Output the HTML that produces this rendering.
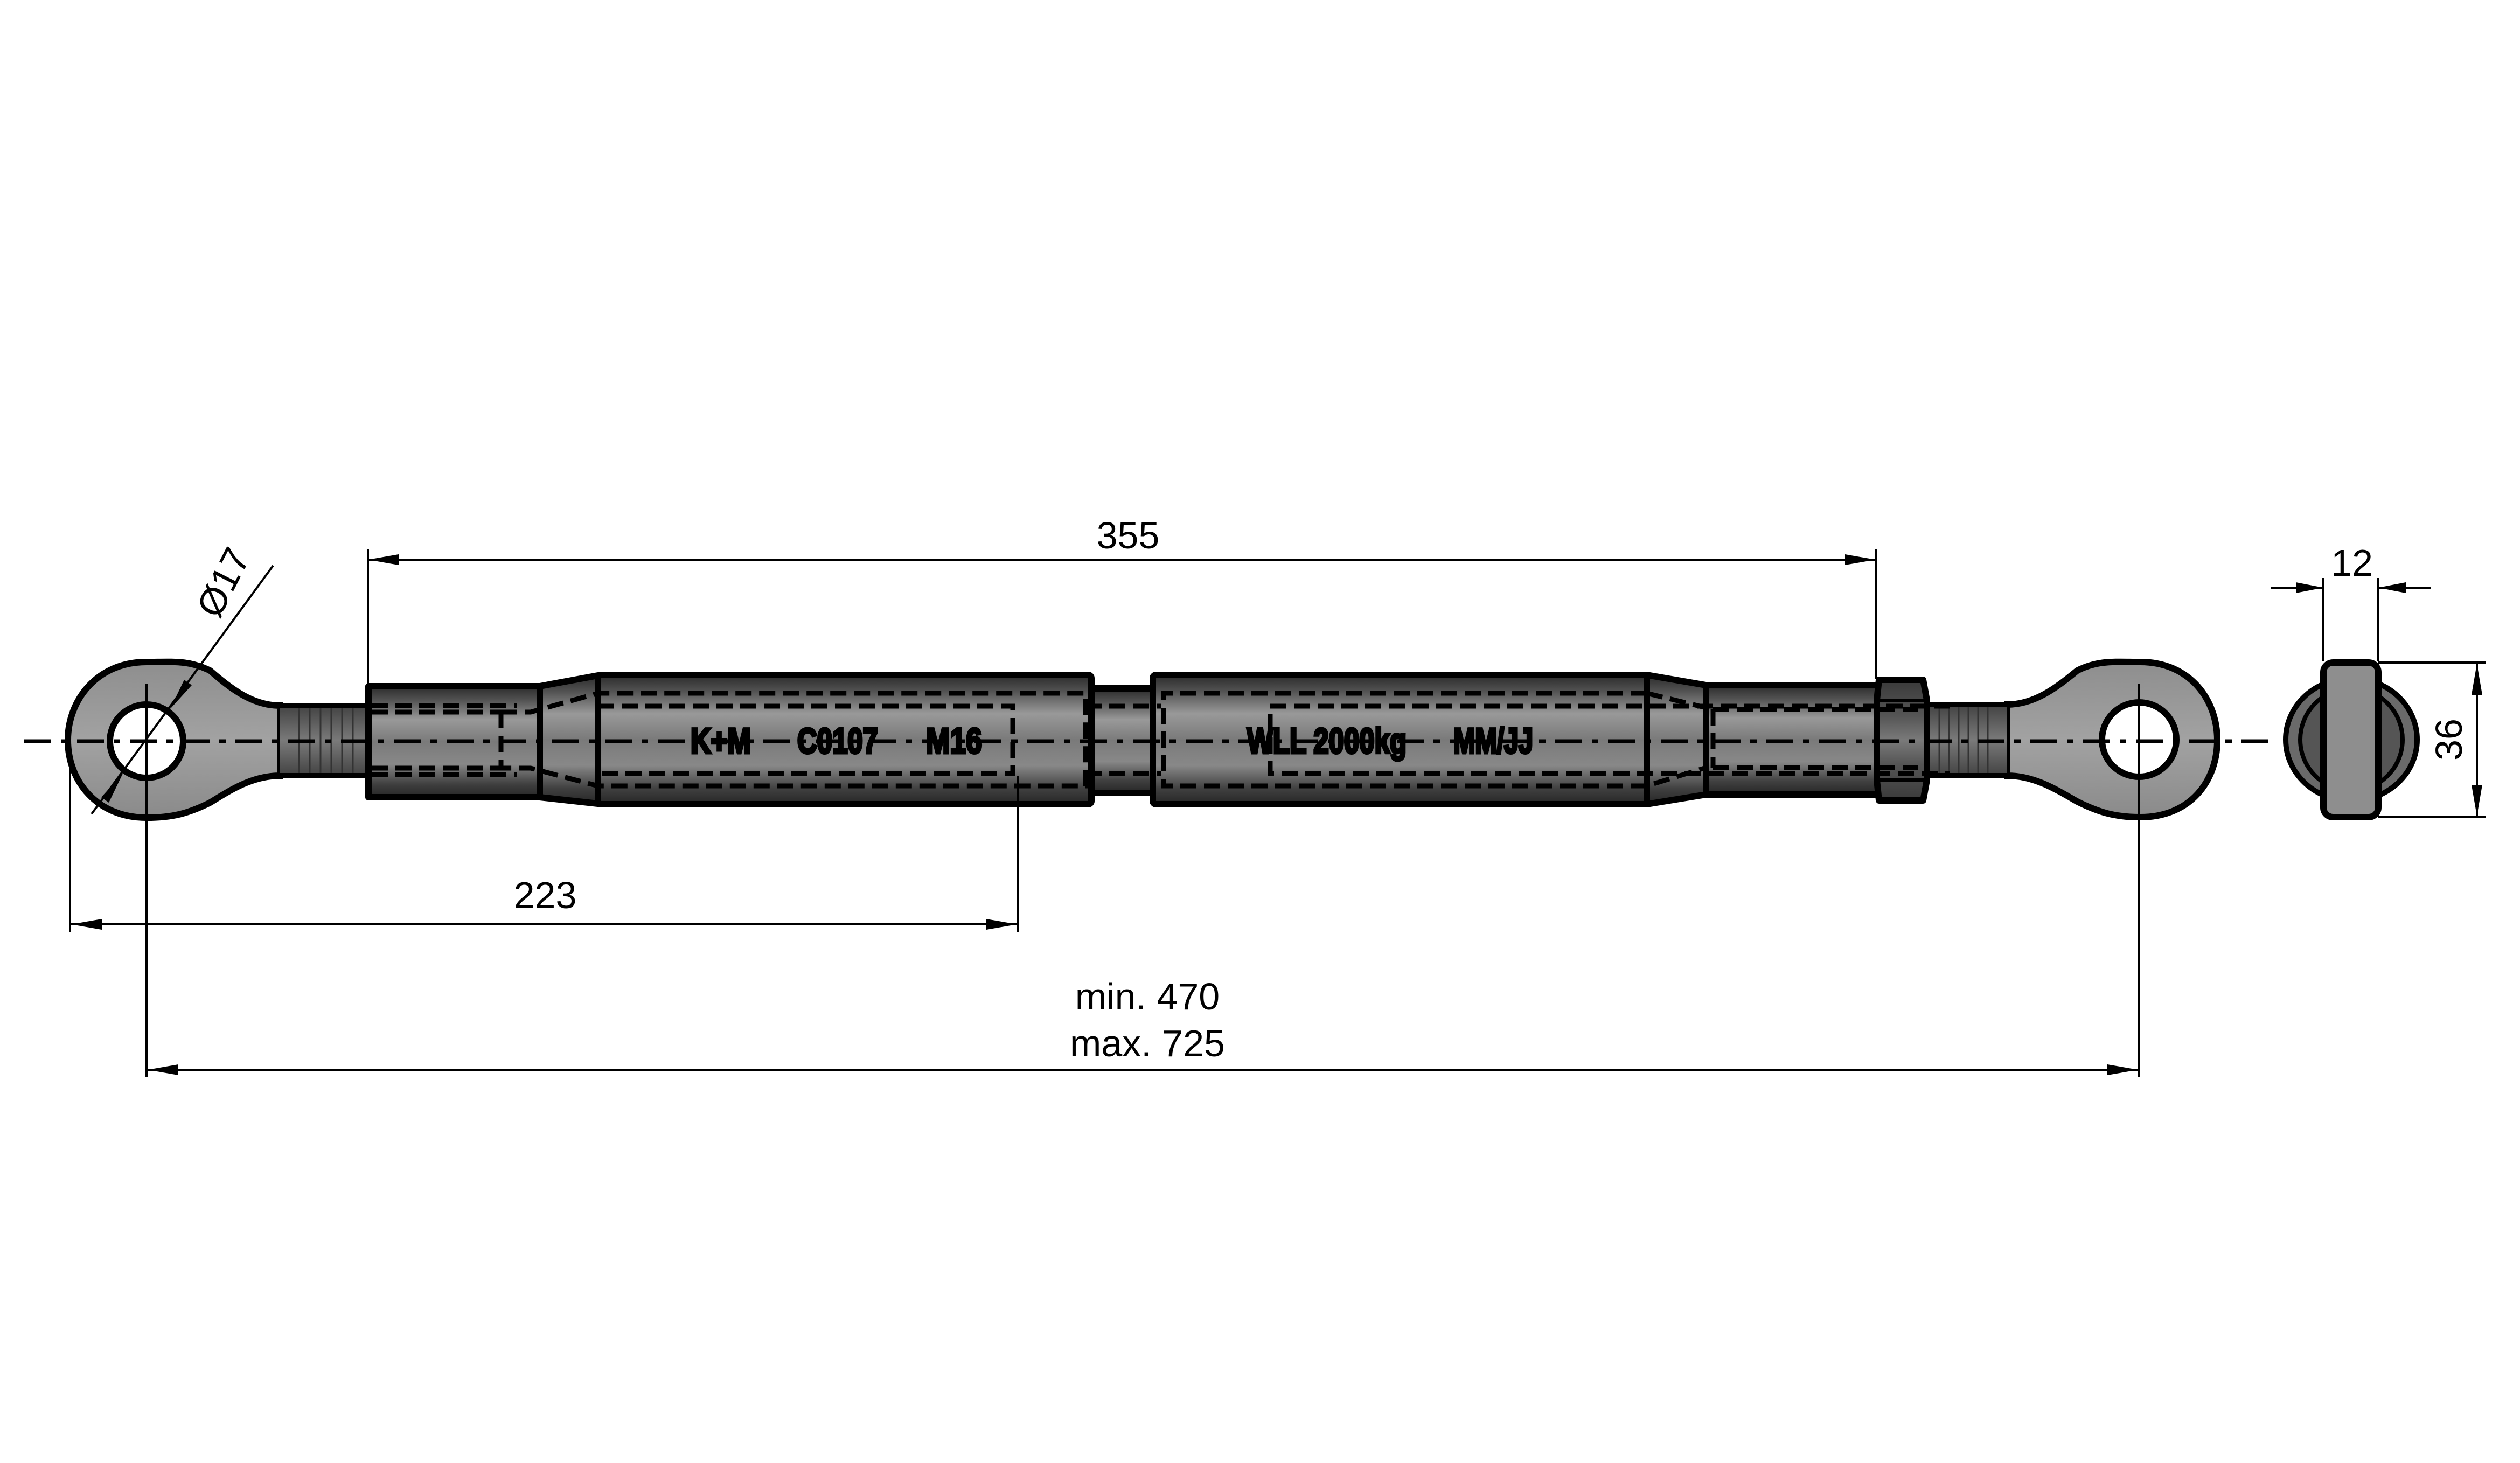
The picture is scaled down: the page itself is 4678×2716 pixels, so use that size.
<!DOCTYPE html>
<html><head><meta charset="utf-8"><style>
html,body{margin:0;padding:0;background:#fff;}
svg{display:block;}
text{font-family:"Liberation Sans",sans-serif;}
</style></head><body>
<svg width="4678" height="2716" viewBox="0 0 4678 2716" xmlns="http://www.w3.org/2000/svg">
<defs>
<linearGradient id="bd" x1="0" y1="0" x2="0" y2="1">
<stop offset="0" stop-color="#2a2a2a"/><stop offset="0.12" stop-color="#505050"/>
<stop offset="0.3" stop-color="#999"/><stop offset="0.5" stop-color="#7a7a7a"/>
<stop offset="0.7" stop-color="#888"/><stop offset="0.88" stop-color="#404040"/>
<stop offset="1" stop-color="#262626"/></linearGradient>
<linearGradient id="ey" x1="0" y1="0" x2="0" y2="1">
<stop offset="0" stop-color="#8e8e8e"/><stop offset="0.5" stop-color="#a2a2a2"/><stop offset="1" stop-color="#8a8a8a"/></linearGradient>
<linearGradient id="th" x1="0" y1="0" x2="0" y2="1">
<stop offset="0" stop-color="#444"/><stop offset="0.5" stop-color="#7a7a7a"/><stop offset="1" stop-color="#444"/></linearGradient>
<linearGradient id="nt" x1="0" y1="0" x2="0" y2="1">
<stop offset="0" stop-color="#3a3a3a"/><stop offset="0.3" stop-color="#555"/><stop offset="0.5" stop-color="#7a7a7a"/><stop offset="0.7" stop-color="#555"/><stop offset="1" stop-color="#3a3a3a"/></linearGradient>
</defs>

<!-- left eye -->
<path d="M520,1310 C470,1310 430,1280 390,1245 C350,1225 320,1229 272,1229 C180,1229 126,1300 126,1374 C126,1450 180,1518 272,1518 C320,1518 350,1510 390,1490 C430,1465 470,1440 520,1440 Z" fill="url(#ey)" stroke="#000" stroke-width="12"/>
<circle cx="272" cy="1376" r="68" fill="#fff" stroke="#000" stroke-width="12"/>
<rect x="520" y="1312" width="165" height="126" fill="url(#th)"/>
<g stroke="#333" stroke-width="3"><line x1="555" y1="1312" x2="555" y2="1438"/><line x1="575" y1="1312" x2="575" y2="1438"/><line x1="595" y1="1312" x2="595" y2="1438"/><line x1="615" y1="1312" x2="615" y2="1438"/><line x1="635" y1="1312" x2="635" y2="1438"/><line x1="655" y1="1312" x2="655" y2="1438"/></g>
<line x1="520" y1="1310" x2="685" y2="1310" stroke="#000" stroke-width="10"/>
<line x1="520" y1="1440" x2="685" y2="1440" stroke="#000" stroke-width="10"/>

<!-- right eye -->
<path d="M3726,1308 C3776,1308 3816,1278 3856,1245 C3896,1225 3926,1229 3973,1229 C4066,1229 4116,1300 4116,1374 C4116,1450 4066,1517 3973,1517 C3926,1517 3896,1508 3856,1488 C3816,1465 3776,1440 3726,1440 Z" fill="url(#ey)" stroke="#000" stroke-width="12"/>
<circle cx="3971" cy="1373" r="69" fill="#fff" stroke="#000" stroke-width="12"/>
<rect x="3575" y="1310" width="151" height="128" fill="url(#th)"/>
<g stroke="#333" stroke-width="3"><line x1="3600" y1="1310" x2="3600" y2="1438"/><line x1="3618" y1="1310" x2="3618" y2="1438"/><line x1="3636" y1="1310" x2="3636" y2="1438"/><line x1="3654" y1="1310" x2="3654" y2="1438"/><line x1="3672" y1="1310" x2="3672" y2="1438"/><line x1="3690" y1="1310" x2="3690" y2="1438"/></g>
<line x1="3575" y1="1308" x2="3726" y2="1308" stroke="#000" stroke-width="10"/>
<line x1="3575" y1="1440" x2="3726" y2="1440" stroke="#000" stroke-width="10"/>

<!-- body parts -->
<g stroke="#000" stroke-width="12" stroke-linejoin="round">
<rect x="684" y="1274" width="318" height="206" fill="url(#bd)"/>
<path d="M1002,1274 L1110,1254 L1110,1492 L1002,1480 Z" fill="url(#bd)"/>
<rect x="1110" y="1253" width="916" height="240" rx="6" fill="url(#bd)"/>
<rect x="2026" y="1278" width="114" height="194" fill="url(#bd)"/>
<rect x="2140" y="1253" width="917" height="240" rx="6" fill="url(#bd)"/>
<path d="M3057,1253 L3167,1272 L3167,1475 L3057,1493 Z" fill="url(#bd)"/>
<rect x="3167" y="1272" width="321" height="203" fill="url(#bd)"/>
<path d="M3488,1262 L3570,1262 L3577,1300 L3577,1448 L3570,1486 L3488,1486 L3484,1448 L3484,1300 Z" fill="url(#nt)"/>
</g>
<g stroke="#000" stroke-width="6" fill="none"><line x1="3488" y1="1300" x2="3575" y2="1300"/><line x1="3488" y1="1448" x2="3575" y2="1448"/></g>

<!-- hidden lines -->
<g stroke="#000" stroke-width="9" stroke-dasharray="30,14" fill="none">
<line x1="690" y1="1310" x2="960" y2="1310"/><line x1="690" y1="1322" x2="940" y2="1322"/>
<line x1="690" y1="1438" x2="960" y2="1438"/><line x1="690" y1="1426" x2="940" y2="1426"/>
<path d="M930,1322 L985,1322 L1110,1287 L2015,1287 L2015,1459 L1110,1459 L985,1426 L930,1426"/>
<path d="M1110,1311 L1880,1311 L1880,1436 L1110,1436"/>
<line x1="2015" y1="1311" x2="2155" y2="1311"/><line x1="2015" y1="1436" x2="2155" y2="1436"/>
<path d="M3057,1287 L2160,1287 L2160,1459 L3057,1459 L3167,1425"/>
<path d="M3057,1287 L3180,1317"/>
<path d="M3620,1311 L2358,1311 L2358,1436 L3620,1436"/>
<line x1="3180" y1="1317" x2="3560" y2="1317"/><line x1="3180" y1="1425" x2="3560" y2="1425"/>
<line x1="3180" y1="1317" x2="3180" y2="1425"/><line x1="930" y1="1322" x2="930" y2="1426"/>
</g>

<!-- centre line -->
<line x1="45" y1="1376" x2="4225" y2="1376" stroke="#000" stroke-width="7" stroke-dasharray="50,18,12,18"/>
<line x1="272" y1="1270" x2="272" y2="2000" stroke="#000" stroke-width="4"/>
<line x1="3971" y1="1270" x2="3971" y2="2000" stroke="#000" stroke-width="4"/>

<!-- body text -->
<g font-weight="bold" font-size="66" fill="#000" stroke="#000" stroke-width="5" text-anchor="middle">
<text x="1338" y="1398" textLength="112" lengthAdjust="spacingAndGlyphs">K+M</text>
<text x="1555" y="1398" textLength="150" lengthAdjust="spacingAndGlyphs">C0107</text>
<text x="1771" y="1398" textLength="104" lengthAdjust="spacingAndGlyphs">M16</text>
<text x="2463" y="1398" textLength="296" lengthAdjust="spacingAndGlyphs">WLL 2000kg</text>
<text x="2772" y="1398" textLength="148" lengthAdjust="spacingAndGlyphs">MM/JJ</text>
</g>

<!-- side view -->
<ellipse cx="4365" cy="1373" rx="122" ry="114" fill="#6a6a6a" stroke="#000" stroke-width="10"/>
<ellipse cx="4365" cy="1373" rx="95" ry="95" fill="#555" stroke="#000" stroke-width="8"/>
<rect x="4313" y="1230" width="102" height="287" rx="18" fill="#8e8e8e" stroke="#000" stroke-width="12"/>

<!-- dimensions -->
<g stroke="#000" stroke-width="4" fill="none">
<line x1="683" y1="1020" x2="683" y2="1272"/>
<line x1="3482" y1="1020" x2="3482" y2="1260"/>
<line x1="683" y1="1039" x2="3482" y2="1039"/>
<line x1="130" y1="1420" x2="130" y2="1730"/>
<line x1="1890" y1="1440" x2="1890" y2="1730"/>
<line x1="132" y1="1716" x2="1888" y2="1716"/>
<line x1="274" y1="1986" x2="3969" y2="1986"/>
<line x1="170" y1="1511" x2="507" y2="1050"/>
<line x1="4313" y1="1073" x2="4313" y2="1228"/>
<line x1="4415" y1="1073" x2="4415" y2="1228"/>
<line x1="4215" y1="1091" x2="4313" y2="1091"/>
<line x1="4512" y1="1091" x2="4415" y2="1091"/>
<line x1="4415" y1="1230" x2="4614" y2="1230"/>
<line x1="4415" y1="1517" x2="4614" y2="1517"/>
<line x1="4598" y1="1232" x2="4598" y2="1515"/>
</g>
<path d="M4598,1232 L4588,1290 L4608,1290 Z M4598,1515 L4588,1457 L4608,1457 Z" fill="#000"/>
<path d="M4313,1091 L4262,1081 L4262,1101 Z M4415,1091 L4466,1081 L4466,1101 Z" fill="#000"/>
<path d="M683,1039 L740,1029 L740,1049 Z M3482,1039 L3425,1029 L3425,1049 Z" fill="#000"/>
<path d="M132,1716 L189,1706 L189,1726 Z M1888,1716 L1831,1706 L1831,1726 Z" fill="#000"/>
<path d="M274,1986 L331,1976 L331,1996 Z M3969,1986 L3912,1976 L3912,1996 Z" fill="#000"/>
<!-- Ø17 arrowheads -->
<path d="M316,1316 L342,1262 L356,1272 Z M228,1436 L202,1490 L188,1480 Z" fill="#000"/>

<g font-size="70" fill="#000" text-anchor="middle">
<text x="2094" y="1018">355</text>
<text x="1012" y="1686">223</text>
<text x="2130" y="1874">min. 470</text>
<text x="2130" y="1961">max. 725</text>
<text x="4366" y="1069">12</text>
<text x="0" y="0" transform="translate(4570,1373) rotate(-90)">36</text>
<text x="0" y="0" transform="translate(436,1092) rotate(-63)">Ø17</text>
</g>
</svg>
</body></html>
